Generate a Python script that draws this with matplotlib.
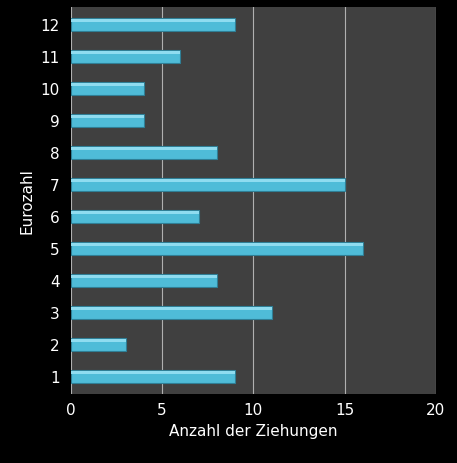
import matplotlib
matplotlib.use("Agg")
import matplotlib.pyplot as plt

eurozahl = [1, 2, 3, 4, 5, 6, 7, 8, 9, 10, 11, 12]
ziehungen = [9, 3, 11, 8, 16, 7, 15, 8, 4, 4, 6, 9]

fig = plt.figure(figsize=(4.57, 4.64), dpi=100, facecolor="black")
ax = fig.add_axes([0.155, 0.149, 0.799, 0.834], facecolor="#404040")

ax.barh(eurozahl, ziehungen, height=0.4, color="#4fbcd8",
        edgecolor="#2f7f96", linewidth=0.8, zorder=3)
# top highlight on each bar
ax.barh([e + 0.13 for e in eurozahl], ziehungen, height=0.1,
        color="#8fdcf0", linewidth=0, zorder=4)

ax.set_xlim(0, 20)
ax.set_ylim(0.45, 12.55)
ax.set_xticks([0, 5, 10, 15, 20])
ax.set_yticks(eurozahl)
ax.grid(axis="x", color="#b0b0b0", linewidth=0.8, zorder=1)
for s in ax.spines.values():
    s.set_visible(False)
ax.tick_params(colors="white", labelsize=11, length=0)
ax.tick_params(axis="y", pad=8)
ax.tick_params(axis="x", pad=6)
ax.set_xlabel("Anzahl der Ziehungen", color="white", fontsize=11)
ax.set_ylabel("Eurozahl", color="white", fontsize=11)

fig.savefig("out.png", dpi=100, facecolor="black")
